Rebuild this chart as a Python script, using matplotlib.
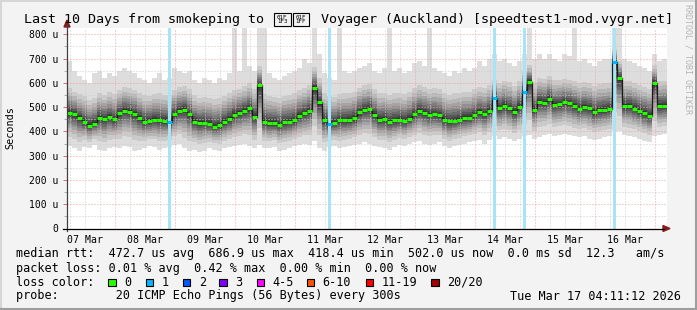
import numpy as np
import pandas as pd
import matplotlib
matplotlib.use('Agg')
import matplotlib.pyplot as plt
import matplotlib.dates as mdates
from matplotlib.patches import Rectangle, Polygon
from matplotlib.lines import Line2D

W, H = 697, 310

# 2 hour steps, 10 days
start = pd.Timestamp('2026-03-07 04:48')
n_steps = 120

median_us = [477, 470, 455, 440, 424, 432, 455, 450, 459, 450,
             474, 485, 481, 472, 455, 440, 442, 448, 445, 443,
             440, 470, 485, 490, 470, 440, 434, 436, 431, 420,
             425, 438, 450, 468, 475, 485, 495, 460, 590, 440,
             434, 434, 428, 437, 440, 445, 465, 474, 485, 580,
             520, 445, 431, 434, 445, 445, 447, 454, 478, 490,
             494, 468, 447, 450, 440, 445, 447, 443, 452, 470,
             484, 476, 468, 470, 466, 448, 441, 444, 449, 455,
             456, 466, 479, 470, 485, 537, 495, 505, 495, 480,
             500, 564, 605, 489, 523, 519, 535, 510, 512, 520,
             516, 505, 494, 500, 495, 478, 487, 489, 492, 687,
             620, 504, 505, 494, 485, 475, 465, 600, 505, 505]

lo_us = [340, 330, 320, 335, 330, 345, 325, 320, 330, 335,
         330, 340, 335, 320, 325, 330, 340, 335, 325, 330,
         335, 345, 350, 330, 320, 325, 315, 320, 330, 325,
         320, 330, 335, 340, 345, 350, 340, 330, 345, 330,
         330, 335, 320, 325, 330, 340, 345, 350, 345, 360,
         330, 320, 335, 340, 330, 335, 340, 345, 350, 355,
         350, 340, 335, 330, 325, 335, 345, 340, 350, 355,
         360, 350, 345, 350, 355, 340, 330, 340, 345, 350,
         355, 360, 365, 350, 365, 380, 370, 375, 370, 360,
         370, 380, 385, 370, 375, 385, 390, 380, 385, 390,
         385, 380, 375, 380, 370, 365, 370, 375, 380, 400,
         400, 385, 380, 375, 370, 360, 355, 380, 385, 390]

hi_us = [620, 600, 590, 585, 570, 580, 600, 590, 600, 595,
         610, 620, 615, 610, 600, 590, 585, 595, 600, 590,
         590, 610, 620, 625, 615, 590, 580, 585, 580, 575,
         580, 590, 600, 610, 615, 625, 640, 620, 700, 600,
         590, 585, 580, 590, 595, 600, 610, 620, 630, 700,
         660, 600, 590, 585, 595, 600, 600, 605, 620, 630,
         635, 615, 600, 600, 595, 600, 600, 595, 605, 620,
         630, 625, 615, 620, 615, 600, 595, 600, 600, 605,
         605, 615, 625, 620, 630, 640, 640, 650, 645, 630,
         650, 680, 700, 640, 660, 655, 665, 650, 650, 655,
         650, 645, 640, 645, 640, 630, 635, 640, 640, 760,
         720, 650, 645, 640, 630, 625, 620, 700, 645, 650]

top_us = [690, 650, 630, 610, 600, 640, 650, 620, 640, 630,
          650, 660, 650, 640, 620, 610, 600, 620, 640, 610,
          620, 660, 650, 640, 650, 610, 600, 620, 610, 600,
          620, 610, 640, 830, 650, 830, 670, 650, 830, 830,
          640, 620, 610, 630, 640, 650, 660, 700, 680, 830,
          720, 640, 620, 610, 830, 650, 640, 650, 660, 670,
          680, 650, 640, 660, 830, 650, 660, 640, 650, 680,
          690, 670, 830, 660, 650, 640, 630, 650, 640, 660,
          650, 660, 690, 670, 700, 720, 690, 700, 680, 670,
          690, 720, 830, 700, 720, 700, 720, 700, 690, 720,
          710, 830, 690, 700, 680, 670, 690, 700, 700, 830,
          830, 700, 690, 680, 670, 660, 650, 720, 690, 700]

# steps where one ping of 20 was lost
loss_steps = [20, 52, 85, 91, 109]

loss_labels = ['0', '1', '2', '3', '4-5', '6-10', '11-19', '20/20']
loss_colors = ['#26ff00', '#00b8ff', '#0059ff', '#7e00ff',
               '#ff00ff', '#ff5500', '#ff0000', '#a10000']

stat_line = 'median rtt:  472.7 us avg  686.9 us max  418.4 us min  502.0 us now  0.0 ms sd  12.3   am/s'
loss_line = 'packet loss: 0.01 % avg  0.42 % max  0.00 % min  0.00 % now'
probe_line = 'probe:        20 ICMP Echo Pings (56 Bytes) every 300s'
stamp = 'Tue Mar 17 04:11:12 2026'


def fx(x):
    return x / W


def fy(y):
    return 1 - y / H


def draw_smoke(ax, t, med, lo, hi, top):
    def ext(a):
        return np.append(a, a[-1])
    ax.fill_between(t, ext(lo), ext(top), step='post', color='#dddddd', lw=0, zorder=2)
    # nested bands, like smokeping's ping i .. ping 21-i shading
    fracs = [1.0, 0.72, 0.58, 0.47, 0.38, 0.3, 0.23, 0.16, 0.1, 0.05]
    levels = [221, 202, 183, 164, 145, 126, 107, 88, 69, 50]
    for f, g in zip(fracs, levels):
        c = '#%02x%02x%02x' % (g, g, g)
        lower = med - f * (med - lo)
        upper = med + f * (hi - med)
        ax.fill_between(t, ext(lower), ext(upper), step='post', color=c, lw=0, zorder=2)


def draw_grid(ax):
    for v in range(50, 850, 50):
        major = v % 100 == 0
        ax.axhline(v, color='#f0a0a0' if major else '#cdcdcd', lw=0.72,
                   ls=(0, (1, 2)), zorder=3)
    for d in pd.date_range('2026-03-07 06:00', '2026-03-17 04:00', freq='6h'):
        major = d.hour == 0
        ax.axvline(mdates.date2num(d), color='#f0a0a0' if major else '#cdcdcd',
                   lw=0.72, ls=(0, (1, 2)), zorder=3)


def main():
    plt.rcParams['font.family'] = 'DejaVu Sans Mono'
    fig = plt.figure(figsize=(W / 100, H / 100), dpi=100, facecolor='#f3f3f3')

    ax = fig.add_axes([fx(67), fy(228.5), fx(667) - fx(67), fy(27.5) - fy(228.5)])
    ax.set_facecolor('white')

    edges = pd.date_range(start, periods=n_steps + 1, freq='2h')
    t = mdates.date2num(edges.to_pydatetime())
    med = np.array(median_us, dtype=float)
    lo = np.array(lo_us, dtype=float)
    hi = np.array(hi_us, dtype=float)
    top = np.array(top_us, dtype=float)

    draw_smoke(ax, t, med, lo, hi, top)
    draw_grid(ax)

    # loss bars across the whole height
    half = 0.45 / 24
    for i in loss_steps:
        c = (t[i] + t[i + 1]) / 2
        ax.axvspan(c - half, c + half, color='#a8e4f8', lw=0, zorder=4)

    # median: dark step line, then coloured markers
    ax.step(t, np.append(med, med[-1]), where='post', color='#1a1a1a', lw=0.9, zorder=5)
    seg_colors = [loss_colors[1] if i in loss_steps else loss_colors[0] for i in range(n_steps)]
    ax.hlines(med, t[:-1], t[1:], colors=seg_colors, lw=2.2, zorder=6)

    ax.set_xlim(t[0], t[-1])
    ax.set_ylim(0, 828)

    noons = pd.date_range('2026-03-07 12:00', periods=10, freq='D')
    ax.set_xticks(mdates.date2num(noons.to_pydatetime()))
    ax.xaxis.set_major_formatter(mdates.DateFormatter('%d %b'))
    ax.tick_params(axis='x', length=0, pad=4.5, labelsize=7.1)

    yt = list(range(0, 900, 100))
    ax.set_yticks(yt)
    ax.set_yticklabels(['0' if v == 0 else '%d u' % v for v in yt])
    ax.set_yticks(list(range(50, 850, 100)), minor=True)
    ax.tick_params(axis='y', which='major', length=3, width=0.72, color='#e07070',
                   pad=3, labelsize=7)
    ax.tick_params(axis='y', which='minor', length=2, width=0.72, color='#b0b0b0')

    for s in ['top', 'right', 'bottom', 'left']:
        ax.spines[s].set_visible(False)

    # axes lines with arrows
    fig.add_artist(Line2D([fx(67), fx(67)], [fy(231), fy(24)], color='#404040', lw=0.9))
    fig.add_artist(Line2D([fx(63), fx(664)], [fy(228.5), fy(228.5)], color='black', lw=0.9))
    fig.add_artist(Polygon([[fx(64), fy(27)], [fx(70), fy(27)], [fx(67), fy(20)]],
                           closed=True, color='#8b1a1a', transform=fig.transFigure))
    fig.add_artist(Polygon([[fx(663), fy(225.5)], [fx(663), fy(231.5)], [fx(670), fy(228.5)]],
                           closed=True, color='#8b1a1a', transform=fig.transFigure))

    # title, with the flag characters shown as hex boxes
    fig.text(fx(24), fy(19.5), 'Last 10 Days from smokeping to', fontsize=9.65,
             va='center', ha='left')
    for bx, code in [(274, '01F\n1F3'), (292.5, '01F\n1FF')]:
        fig.add_artist(Rectangle((fx(bx), fy(26)), fx(16.5), fy(13) - fy(26), fill=False,
                                 lw=0.8, ec='black', transform=fig.transFigure))
        fig.text(fx(bx + 8.25), fy(19.5), code, fontsize=4.2, va='center', ha='center',
                 linespacing=0.95)
    fig.text(fx(320.7), fy(19.5), 'Voyager (Auckland) [speedtest1-mod.vygr.net]',
             fontsize=9.65, va='center', ha='left')

    fig.text(fx(10), fy(128), 'Seconds', rotation=90, fontsize=7.3, va='center', ha='center')
    fig.text(fx(688), fy(4), 'RRDTOOL / TOBI OETIKER', rotation=270, fontsize=6,
             va='top', ha='center', color='#b4b4b4')

    # legend rows
    fs = 8.5
    fig.text(fx(16), fy(254), stat_line, fontsize=fs, va='center', ha='left')
    fig.text(fx(16), fy(268.3), loss_line, fontsize=fs, va='center', ha='left')
    fig.text(fx(16), fy(282.3), 'loss color:', fontsize=fs, va='center', ha='left')
    box_x = [108, 145.7, 182.7, 219, 256.7, 306.7, 365.7, 431]
    for bx, lab, col in zip(box_x, loss_labels, loss_colors):
        fig.add_artist(Rectangle((fx(bx), fy(286)), fx(7.5), fy(278.5) - fy(286),
                                 fc=col, ec='black', lw=0.8, transform=fig.transFigure))
        fig.text(fx(bx + 16), fy(282.3), lab, fontsize=fs, va='center', ha='left')
    fig.text(fx(16), fy(296), probe_line, fontsize=fs, va='center', ha='left')
    fig.text(fx(681), fy(296), stamp, fontsize=fs, va='center', ha='right')

    # 3d-ish frame
    fig.add_artist(Line2D([fx(0.5), fx(696.5)], [fy(0.5), fy(0.5)], color='#d6d6d6', lw=1.4))
    fig.add_artist(Line2D([fx(0.5), fx(0.5)], [fy(0.5), fy(309.5)], color='#d6d6d6', lw=1.4))
    fig.add_artist(Line2D([fx(0), fx(697)], [fy(309), fy(309)], color='#9e9e9e', lw=1.5))
    fig.add_artist(Line2D([fx(696), fx(696)], [fy(0), fy(310)], color='#9e9e9e', lw=1.5))

    fig.savefig('out.png', dpi=100, facecolor=fig.get_facecolor())


if __name__ == "__main__":
    main()
